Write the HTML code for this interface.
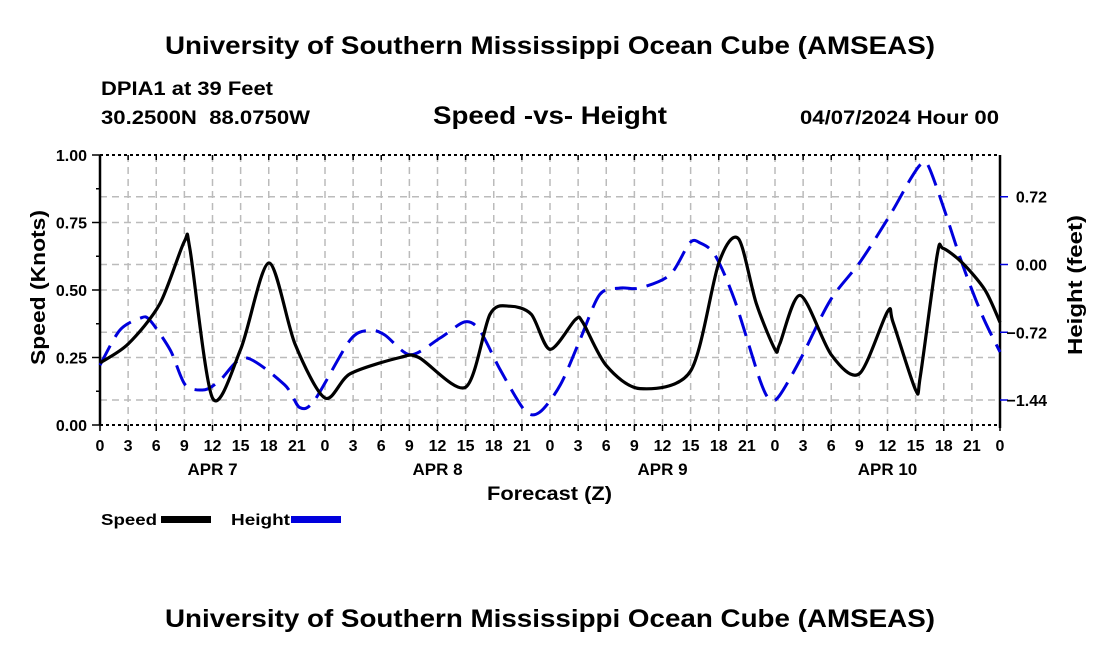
<!DOCTYPE html>
<html><head><meta charset="utf-8"><style>
body{margin:0;background:#fff;}
svg{display:block;font-family:"Liberation Sans",sans-serif;font-weight:bold;}
</style></head><body>
<svg id="c" width="1100" height="650" viewBox="0 0 1100 650">
<text x="165" y="54" font-size="25" textLength="770" lengthAdjust="spacingAndGlyphs">University of Southern Mississippi Ocean Cube (AMSEAS)</text>
<text x="101" y="95" font-size="19" textLength="172" lengthAdjust="spacingAndGlyphs">DPIA1 at 39 Feet</text>
<text x="101" y="124" font-size="19" textLength="209" lengthAdjust="spacingAndGlyphs" xml:space="preserve">30.2500N  88.0750W</text>
<text x="433" y="124" font-size="25" textLength="234" lengthAdjust="spacingAndGlyphs">Speed -vs- Height</text>
<text x="800" y="124" font-size="19" textLength="199" lengthAdjust="spacingAndGlyphs">04/07/2024 Hour 00</text>
<text x="165" y="627" font-size="25" textLength="770" lengthAdjust="spacingAndGlyphs">University of Southern Mississippi Ocean Cube (AMSEAS)</text>
<g id="grid"></g><g id="axes"></g><g id="series"></g>
<text x="487" y="500" font-size="19" textLength="125" lengthAdjust="spacingAndGlyphs">Forecast (Z)</text>
<text transform="translate(45,365) rotate(-90)" font-size="20" textLength="155" lengthAdjust="spacingAndGlyphs">Speed (Knots)</text>
<text transform="translate(1082,355) rotate(-90)" font-size="20" textLength="140" lengthAdjust="spacingAndGlyphs">Height (feet)</text>
<g>
<text x="101" y="525" font-size="16" textLength="56" lengthAdjust="spacingAndGlyphs">Speed</text>
<rect x="161" y="516" width="50" height="7" fill="#000"/>
<text x="231" y="525" font-size="16" textLength="59" lengthAdjust="spacingAndGlyphs">Height</text>
<rect x="291" y="516" width="50" height="7" fill="#0000dd"/>
</g>
</svg>
<script>
const speedHours=[0,3,6.4,9,9.6,12,15,18,20.8,24,26.7,32,34,39,41.6,43.7,46,48,50.7,51.5,54,57.6,63,66,68.1,70,72,72.5,74.7,78,81,84,84.6,87,87.5,89.3,89.9,92,94.4,96];
const speedValues=[0.23,0.30,0.45,0.68,0.65,0.10,0.28,0.60,0.30,0.10,0.19,0.25,0.25,0.14,0.41,0.44,0.41,0.28,0.39,0.38,0.22,0.135,0.20,0.60,0.69,0.45,0.28,0.30,0.48,0.26,0.19,0.42,0.38,0.13,0.18,0.63,0.655,0.60,0.50,0.38];
const heightHours=[0,2.1,4.3,5.3,7.5,9.1,11.2,12.8,15.5,19.7,21.3,22.9,26.7,28.8,30.4,33.1,36.3,38.9,40.5,42.7,45.3,46.9,49.1,51.2,53.3,55.5,57.6,60.8,62.9,64,65.6,67.7,70.4,71.5,72.5,74.7,77.9,81.1,84.3,86.4,87.5,88.3,89.9,92,94.1,96];
const heightValues=[-1.07,-0.70,-0.57,-0.59,-0.91,-1.28,-1.33,-1.23,-0.99,-1.28,-1.52,-1.44,-0.80,-0.70,-0.75,-0.96,-0.78,-0.61,-0.70,-1.12,-1.55,-1.57,-1.28,-0.80,-0.32,-0.25,-0.25,-0.11,0.23,0.23,0.10,-0.38,-1.23,-1.44,-1.39,-1.01,-0.38,0.03,0.53,0.90,1.06,1.06,0.63,0.0,-0.54,-0.93];
const xTickLabels=["0","3","6","9","12","15","18","21"];
const dayLabels=["APR 7","APR 8","APR 9","APR 10"];
const speedTicks=[0,0.25,0.5,0.75,1.0];
const heightTicks=[-1.44,-0.72,0,0.72];

const X0=100,X1=1000,Y0=425,Y1=155;
const xs=h=>X0+(X1-X0)*h/96;
const ys=v=>Y0-(Y0-Y1)*v/1.0;
const yh=v=>264.5-94.1*v;
const NS='http://www.w3.org/2000/svg';
function mk(p,t,a){const e=document.createElementNS(NS,t);for(const k in a)e.setAttribute(k,a[k]);p.appendChild(e);return e;}
const grid=document.getElementById('grid'),axes=document.getElementById('axes'),ser=document.getElementById('series');
for(let h=3;h<96;h+=3){const l=mk(grid,'line',{x1:xs(h),x2:xs(h),y1:Y1,y2:Y0,stroke:'#bbb','stroke-width':1.5,'stroke-dasharray':'7,5'});

}
speedTicks.forEach(v=>{if(v>0&&v<1){const l=mk(grid,'line',{x1:X0,x2:X1,y1:ys(v),y2:ys(v),stroke:'#bbb','stroke-width':1.5,'stroke-dasharray':'7,5'});

}});
heightTicks.forEach(v=>{const l=mk(grid,'line',{x1:X0,x2:X1,y1:yh(v),y2:yh(v),stroke:'#bbb','stroke-width':1.5,'stroke-dasharray':'7,5'});

});
mk(axes,'line',{x1:X0,x2:X0,y1:Y1,y2:Y0,stroke:'#000','stroke-width':2.5});
mk(axes,'line',{x1:X1,x2:X1,y1:Y1,y2:Y0+3,stroke:'#000','stroke-width':2.5});
mk(axes,'line',{x1:X0,x2:X1,y1:Y1,y2:Y1,stroke:'#000','stroke-width':2,'stroke-dasharray':'3,3'});
mk(axes,'line',{x1:X0,x2:X1,y1:Y0,y2:Y0,stroke:'#000','stroke-width':2,'stroke-dasharray':'3,3'});
for(let h=0;h<=96;h+=3){const x=xs(h);
mk(axes,'line',{x1:x,x2:x,y1:Y0,y2:Y0+6,stroke:'#000','stroke-width':1.5});
mk(axes,'line',{x1:x,x2:x,y1:Y1,y2:Y1+5,stroke:'#000','stroke-width':1.5});
const t=mk(axes,'text',{x:x,y:451,'font-size':16,'text-anchor':'middle'});t.textContent=xTickLabels[(h/3)%8];

}
dayLabels.forEach((d,i)=>{const t=mk(axes,'text',{x:xs(24*i+12),y:475,'font-size':17,'text-anchor':'middle'});t.textContent=d;

});
speedTicks.forEach(v=>{mk(axes,'line',{x1:X0-8,x2:X0,y1:ys(v),y2:ys(v),stroke:'#000','stroke-width':1.5});
const t=mk(axes,'text',{x:87,y:ys(v)+6,'font-size':16,'text-anchor':'end'});t.textContent=v.toFixed(2);

});
for(let v=0.125;v<1;v+=0.25)mk(axes,'line',{x1:X0-4,x2:X0,y1:ys(v),y2:ys(v),stroke:'#000','stroke-width':1.5});
heightTicks.forEach(v=>{mk(axes,'line',{x1:X1,x2:X1+8,y1:yh(v),y2:yh(v),stroke:'#0000dd','stroke-width':1.5});
const t=mk(axes,'text',{x:1047,y:yh(v)+6,'font-size':16,'text-anchor':'end'});t.textContent=(v<0?'\u2212':'')+Math.abs(v).toFixed(2);

});
function path(pts){let d='M'+pts[0][0]+','+pts[0][1];
for(let i=0;i<pts.length-1;i++){const p0=pts[Math.max(0,i-1)],p1=pts[i],p2=pts[i+1],p3=pts[Math.min(pts.length-1,i+2)];
const c1=[p1[0]+(p2[0]-p0[0])/7,p1[1]+(p2[1]-p0[1])/7],c2=[p2[0]-(p3[0]-p1[0])/7,p2[1]-(p3[1]-p1[1])/7];
d+=' C'+c1[0].toFixed(1)+','+c1[1].toFixed(1)+' '+c2[0].toFixed(1)+','+c2[1].toFixed(1)+' '+p2[0].toFixed(1)+','+p2[1].toFixed(1);}
return d;}
const hp=mk(ser,'path',{d:path(heightHours.map((h,i)=>[xs(h),yh(heightValues[i])])),fill:'none',stroke:'#0000dd','stroke-width':3,'stroke-dasharray':'22,10'});


const sp=mk(ser,'path',{d:path(speedHours.map((h,i)=>[xs(h),ys(speedValues[i])])),fill:'none',stroke:'#000','stroke-width':3.2});


</script>
</body></html>
